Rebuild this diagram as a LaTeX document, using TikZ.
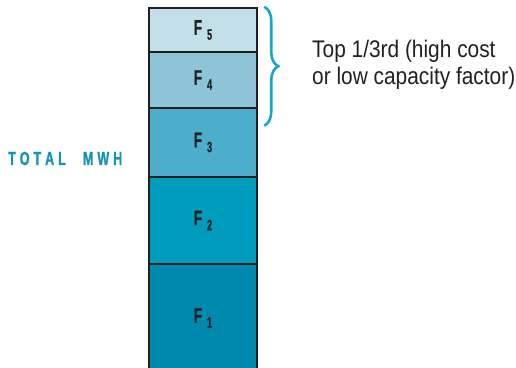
\documentclass[tikz,border=0pt]{standalone}
\usepackage{graphicx}
\usepackage{fontspec}
\usetikzlibrary{decorations.pathreplacing,calc}
\setmainfont{Liberation Sans}
\newfontfamily\heavyfont{Liberation Sans Bold}[FakeBold=1.3]
\definecolor{txt}{HTML}{231F20}
\definecolor{cfive}{HTML}{C2DFEA}
\definecolor{cfour}{HTML}{8DC4D8}
\definecolor{cthree}{HTML}{4CAECB}
\definecolor{ctwo}{HTML}{009CBE}
\definecolor{cone}{HTML}{0089AE}
\definecolor{tealtxt}{HTML}{1493B7}
\definecolor{bracec}{HTML}{16A6CB}
\newcommand{\flab}[1]{\scalebox{0.64}[1]{\heavyfont\fontsize{21}{21}\selectfont F}\hspace{5pt}\raisebox{-5pt}{\scalebox{0.6}[1]{\heavyfont\fontsize{15}{15}\selectfont #1}}}
\newcommand{\lsp}{\kern6pt}
\begin{document}
\begin{tikzpicture}[x=1pt,y=1pt,
  seg/.style={draw=txt,line width=2.5pt,minimum width=108pt,inner sep=0pt,text=txt},
  note/.style={anchor=base west,inner sep=0pt,text=txt,font=\fontsize{24}{27}\selectfont}]
\useasboundingbox (0,0) rectangle (516,367);
\clip (0,0) rectangle (516,367);
\node[seg,fill=cone,minimum height=108pt] (f1) at (203,49) {\flab{1}};
\node[seg,fill=ctwo,minimum height=87pt] (f2) at (203,146.5) {\flab{2}};
\node[seg,fill=cthree,minimum height=69pt] (f3) at (203,224.5) {\flab{3}};
\node[seg,fill=cfour,minimum height=56pt] (f4) at (203,287) {\flab{4}};
\node[seg,fill=cfive,minimum height=44pt] (f5) at (203,337) {\flab{5}};
\coordinate (btop) at ($(f5.north east)+(6,0)$);
\coordinate (bbot) at ($(f3.north east)+(6,-19)$);
\draw[bracec,line width=2.6pt,decorate,decoration={brace,amplitude=14pt}] (btop) -- (bbot);
\node[note] (n1) at (312,309) {\scalebox{0.87}[1]{Top 1/3rd (high cost}};
\node[note] (n2) at (312,282) {\scalebox{0.87}[1]{or low capacity factor)}};
\node[anchor=base west,inner sep=0pt,text=tealtxt] (tot) at (8,202) {\scalebox{0.66}[1]{\heavyfont\fontsize{19}{19}\selectfont T\lsp O\lsp T\lsp A\lsp L\kern26pt M\lsp W\lsp H}};
\end{tikzpicture}
\end{document}
